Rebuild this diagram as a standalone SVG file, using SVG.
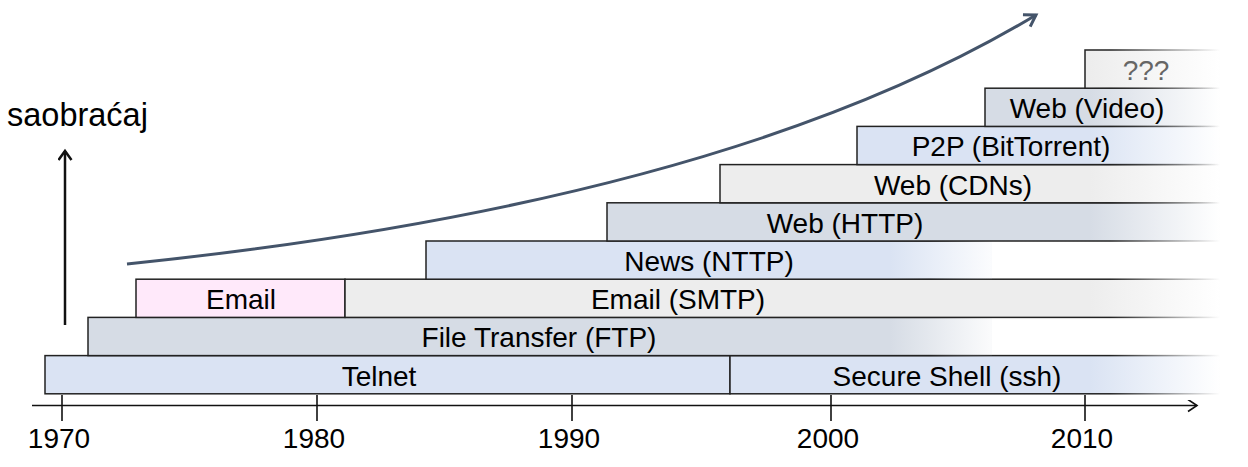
<svg xmlns="http://www.w3.org/2000/svg" width="1248" height="467" viewBox="0 0 1248 467">
  <style>
    .lbl { font-family: "Liberation Sans", Arial, sans-serif; font-size: 28px; fill: #000; text-anchor: middle; }
    .yr { font-family: "Liberation Sans", Arial, sans-serif; font-size: 28px; fill: #000; text-anchor: middle; }
    .bar { stroke-width: 1.5; }
    .axis { stroke: #111; stroke-width: 1.6; fill: none; }
  </style>
  <defs>
    <linearGradient id="blueL" gradientUnits="userSpaceOnUse" x1="1090" y1="0" x2="1220" y2="0">
      <stop offset="0" stop-color="#DAE3F3"/><stop offset="1" stop-color="#DAE3F3" stop-opacity="0"/>
    </linearGradient>
    <linearGradient id="blueS" gradientUnits="userSpaceOnUse" x1="890" y1="0" x2="992" y2="0">
      <stop offset="0" stop-color="#DAE3F3"/><stop offset="1" stop-color="#DAE3F3" stop-opacity="0.1"/>
    </linearGradient>
    <linearGradient id="gbL" gradientUnits="userSpaceOnUse" x1="1090" y1="0" x2="1220" y2="0">
      <stop offset="0" stop-color="#D6DCE5"/><stop offset="1" stop-color="#D6DCE5" stop-opacity="0"/>
    </linearGradient>
    <linearGradient id="gbS" gradientUnits="userSpaceOnUse" x1="890" y1="0" x2="992" y2="0">
      <stop offset="0" stop-color="#D6DCE5"/><stop offset="1" stop-color="#D6DCE5" stop-opacity="0.1"/>
    </linearGradient>
    <linearGradient id="grL" gradientUnits="userSpaceOnUse" x1="1090" y1="0" x2="1220" y2="0">
      <stop offset="0" stop-color="#EDEDED"/><stop offset="1" stop-color="#EDEDED" stop-opacity="0"/>
    </linearGradient>
    <linearGradient id="stL" gradientUnits="userSpaceOnUse" x1="1110" y1="0" x2="1220" y2="0">
      <stop offset="0" stop-color="#222"/><stop offset="1" stop-color="#222" stop-opacity="0"/>
    </linearGradient>
    <linearGradient id="stS" gradientUnits="userSpaceOnUse" x1="930" y1="0" x2="992" y2="0">
      <stop offset="0" stop-color="#222"/><stop offset="1" stop-color="#222" stop-opacity="0"/>
    </linearGradient>
    <marker id="chev" markerUnits="userSpaceOnUse" markerWidth="20" markerHeight="20" refX="10" refY="6" orient="auto">
      <path d="M1,0 L10,6 L1,12" fill="none" stroke="#111" stroke-width="1.6"/>
    </marker>
    <marker id="chevV" markerUnits="userSpaceOnUse" markerWidth="20" markerHeight="20" refX="10" refY="7" orient="auto">
      <path d="M1,0.5 L10,7 L1,13.5" fill="none" stroke="#111" stroke-width="2.5"/>
    </marker>
    <marker id="chevC" markerUnits="userSpaceOnUse" markerWidth="24" markerHeight="24" refX="12" refY="8" orient="auto">
      <path d="M1,1 L12,8 L1,15" fill="none" stroke="#44546A" stroke-width="3"/>
    </marker>
  </defs>

  <g id="connectors">
    <path id="axis-x" class="axis" d="M32,405.5 H1197" marker-end="url(#chev)"/>
    <path id="axis-y" d="M65,325 V151" fill="none" stroke="#111" stroke-width="2.5" marker-end="url(#chevV)"/>
    <path id="growth" d="M127,264 C600,215 870,115 1036,15" fill="none" stroke="#44546A" stroke-width="3" marker-end="url(#chevC)"/>
  </g>

  <g id="ticks" stroke="#111" stroke-width="1.6">
    <line x1="62" y1="395" x2="62" y2="421"/>
    <line x1="317" y1="395" x2="317" y2="421"/>
    <line x1="572" y1="395" x2="572" y2="421"/>
    <line x1="831" y1="395" x2="831" y2="421"/>
    <line x1="1085" y1="395" x2="1085" y2="421"/>
  </g>
  <g id="years">
    <text class="yr" x="59" y="448">1970</text>
    <text class="yr" x="314" y="448">1980</text>
    <text class="yr" x="569" y="448">1990</text>
    <text class="yr" x="828" y="448">2000</text>
    <text class="yr" x="1082" y="448">2010</text>
  </g>

  <g id="ylabel">
    <text x="7" y="126" style="font-family:'Liberation Sans',Arial,sans-serif;font-size:32.5px;fill:#000">saobraćaj</text>
  </g>

  <g id="telnet">
    <rect class="bar" x="45" y="355.6" width="685" height="38.2" fill="#DAE3F3" stroke="#222"/>
    <text class="lbl" x="379" y="385.5">Telnet</text>
  </g>
  <g id="ssh">
    <rect class="bar" x="730" y="355.6" width="490" height="38.2" fill="url(#blueL)" stroke="url(#stL)"/>
    <text class="lbl" x="947" y="385.5">Secure Shell (ssh)</text>
  </g>
  <g id="ftp">
    <rect class="bar" x="88" y="317.4" width="904" height="38.2" fill="url(#gbS)" stroke="url(#stS)"/>
    <text class="lbl" x="539" y="347.3">File Transfer (FTP)</text>
  </g>
  <g id="email">
    <rect class="bar" x="136" y="279.2" width="209" height="38.2" fill="#FFE9FA" stroke="#222"/>
    <text class="lbl" x="241" y="309.1">Email</text>
  </g>
  <g id="smtp">
    <rect class="bar" x="345" y="279.2" width="875" height="38.2" fill="url(#grL)" stroke="url(#stL)"/>
    <text class="lbl" x="678" y="309.1">Email (SMTP)</text>
  </g>
  <g id="news">
    <rect class="bar" x="426" y="241" width="566" height="38.2" fill="url(#blueS)" stroke="url(#stS)"/>
    <text class="lbl" x="709" y="270.9">News (NTTP)</text>
  </g>
  <g id="http">
    <rect class="bar" x="607" y="202.8" width="613" height="38.2" fill="url(#gbL)" stroke="url(#stL)"/>
    <text class="lbl" x="845" y="232.7">Web (HTTP)</text>
  </g>
  <g id="cdns">
    <rect class="bar" x="720" y="164.6" width="500" height="38.2" fill="url(#grL)" stroke="url(#stL)"/>
    <text class="lbl" x="953" y="194.5">Web (CDNs)</text>
  </g>
  <g id="p2p">
    <rect class="bar" x="857" y="126.4" width="363" height="38.2" fill="url(#blueL)" stroke="url(#stL)"/>
    <text class="lbl" x="1011" y="156.3">P2P (BitTorrent)</text>
  </g>
  <g id="video">
    <rect class="bar" x="985" y="88.2" width="235" height="38.2" fill="url(#gbL)" stroke="url(#stL)"/>
    <text class="lbl" x="1087" y="118.1">Web (Video)</text>
  </g>
  <g id="unknown">
    <rect class="bar" x="1085" y="50" width="135" height="38.2" fill="url(#grL)" stroke="url(#stL)"/>
    <text class="lbl" x="1146" y="79.9" style="fill:#666">???</text>
  </g>
</svg>
